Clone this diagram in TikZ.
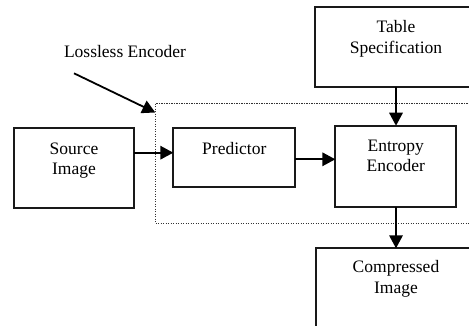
\documentclass[tikz,border=0pt]{standalone}
\usepackage{fontspec}
\setmainfont{Liberation Serif}
\usetikzlibrary{arrows.meta}
\tikzset{
  box/.style={draw=black!90, line width=1.8pt, fill=none, inner sep=0pt, outer sep=0pt, anchor=north west},
  txt/.style={font=\fontsize{17.5}{20.5}\selectfont, align=center, inner sep=0pt, text=black},
  conn/.style={draw=black, line width=1.8pt, -{Triangle[length=13pt,width=13.5pt]}},
  dotbox/.style={draw=black!80, line width=1.2pt, dash pattern=on 1.3pt off 1.2pt}
}
\begin{document}
\begin{tikzpicture}[x=1pt,y=-1pt]
\useasboundingbox (0,0) rectangle (469,326);
\fill[white] (0,0) rectangle (469,326);
\clip (0,0) rectangle (469,326);
% dotted lossless encoder region
\draw[dotbox] (480,103.3) -- (155.3,103.3) -- (155.3,223.3) -- (480,223.3);
\coordinate (lcorner) at (155.3,112.5);
% boxes
\node[box, minimum width=162pt, minimum height=80pt] (tab) at (315,6.7) {};
\node[box, minimum width=119.4pt, minimum height=80pt] (src) at (14.3,128.3) {};
\node[box, minimum width=122pt, minimum height=59pt] (pred) at (173.3,128.3) {};
\node[box, minimum width=120.7pt, minimum height=81.3pt] (ent) at (335.3,125.7) {};
\node[box, minimum width=160pt, minimum height=100pt] (comp) at (316,248.3) {};
% texts
\node[txt, anchor=base] (tabt) at (396,53.5) {Table\\Specification};
\node[txt, anchor=base] (srct) at (74,175) {Source\\Image};
\node[txt, anchor=base] (predt) at (234.3,154.5) {Predictor};
\node[txt, anchor=base] (entt) at (395.8,172) {Entropy\\Encoder};
\node[txt, anchor=base] (compt) at (396,293) {Compressed\\Image};
\node[txt, anchor=base] (losst) at (125,58) {Lossless Encoder};
\coordinate (lstart) at (74,73.3);
% connectors
\draw[conn] (src.east |- 0,152.7) -- (pred.west |- 0,152.7);
\draw[conn] (pred.east |- 0,159.3) -- (ent.west |- 0,159.3);
\draw[conn] (tab.south -| 396,0) -- (ent.north -| 396,0);
\draw[conn] (ent.south -| 396,0) -- (comp.north -| 396,0);
\draw[conn] (lstart) -- (lcorner);
\end{tikzpicture}
\end{document}
